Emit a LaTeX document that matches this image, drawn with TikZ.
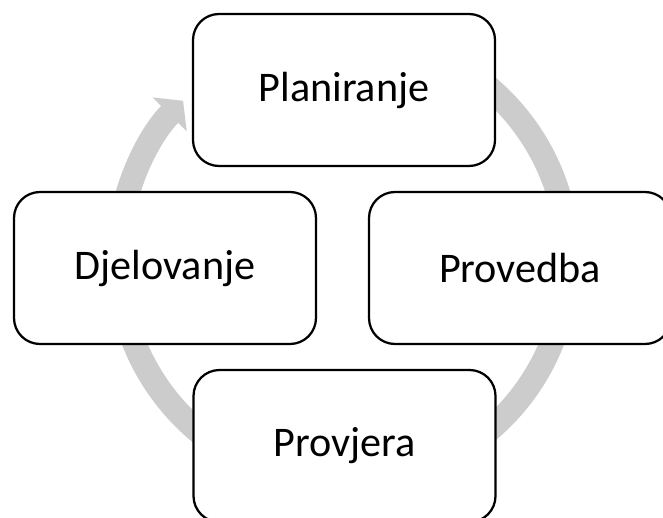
\documentclass[tikz,border=0pt]{standalone}
\usepackage{fontspec}
\setmainfont{Carlito}
\usepackage{tikz}
\usetikzlibrary{arrows.meta}

\begin{document}
\begin{tikzpicture}[
    every node/.style={font=\fontsize{30}{36}\selectfont},
    stage/.style={draw, line width=1.6pt, fill=white, rounded corners=0.65cm,
                  minimum width=7.55cm, minimum height=3.8cm, align=center},
    loop/.style={line width=0.6cm, black!20, -{Triangle[length=0.48cm, width=1.18cm]}}
]
    \useasboundingbox (0,0) rectangle (16.575,12.925);
    \coordinate (hub) at (8.575,6.45);
    % ring behind the four stages
    \draw[loop] (hub) ++(80:5.625) arc[start angle=80, end angle=-224.7, radius=5.625];

    \node[stage] (plan)  at (8.6,10.675)  {Planiranje};
    \node[stage] (act)   at (4.125,6.225) {Djelovanje};
    \node[stage] (do)    at (13.0,6.225)  {Provedba};
    \node[stage] (check) at (8.6125,1.775) {Provjera};
\end{tikzpicture}
\end{document}
